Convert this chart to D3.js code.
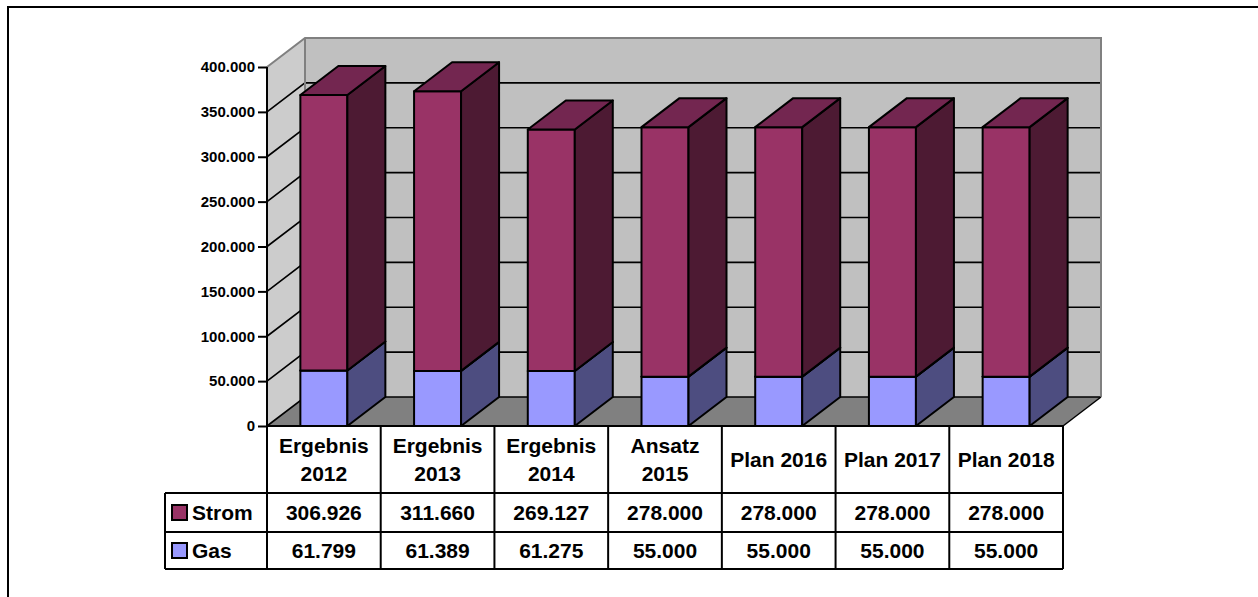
<!DOCTYPE html>
<html>
<head>
<meta charset="utf-8">
<script src="https://cdn.jsdelivr.net/npm/d3@7"></script>
<style>
  html, body { margin: 0; padding: 0; background: #fff; }
  svg { display: block; font-family: "Liberation Sans", Arial, Helvetica, sans-serif; font-weight: bold; }
</style>
</head>
<body>
<svg id="chart" width="1258" height="597"></svg>
<script>
// Categories (header cells break on "\n")
const categories = ["Ergebnis\n2012", "Ergebnis\n2013", "Ergebnis\n2014", "Ansatz\n2015", "Plan 2016", "Plan 2017", "Plan 2018"];
const stromValues = [306926, 311660, 269127, 278000, 278000, 278000, 278000];
const gasValues = [61799, 61389, 61275, 55000, 55000, 55000, 55000];
const seriesNames = ["Strom", "Gas"];
const yTicks = [0, 50000, 100000, 150000, 200000, 250000, 300000, 350000, 400000];

const de = d3.formatLocale({ decimal: ",", thousands: ".", grouping: [3], currency: ["", " €"] });
const fmt = de.format(",d");

const svg = d3.select("#chart");

// Layout
const plotLeft = 267, plotRight = 1063, plotBottom = 426, plotTop = 67;
const depthX = 38, depthY = -29;
const rowHeader = [426, 493], rowStrom = [493, 532], rowGas = [532, 569];
const legendLeft = 165;

const x = d3.scaleBand().domain(categories).range([plotLeft, plotRight]).padding(0);
const y = d3.scaleLinear().domain([0, 400000]).range([plotBottom, plotTop]);
const barW = 47;

const colors = {
  Strom: { front: "#993366", side: "#4d1a33", top: "#732650" },
  Gas: { front: "#9999ff", side: "#4d4d80", top: "#7373bf" }
};

// Outer frame
svg.append("rect").attr("x", 8).attr("y", 7).attr("width", 1300).attr("height", 650)
  .attr("fill", "none").attr("stroke", "#000").attr("stroke-width", 2);

const y0 = y(0), yMax = y(400000);

// Back wall
svg.append("rect")
  .attr("x", plotLeft + depthX).attr("y", yMax + depthY)
  .attr("width", plotRight - plotLeft).attr("height", y0 - yMax)
  .attr("fill", "#c0c0c0");

// Side wall
svg.append("polygon")
  .attr("points", [[plotLeft, yMax], [plotLeft + depthX, yMax + depthY], [plotLeft + depthX, y0 + depthY], [plotLeft, y0]].join(" "))
  .attr("fill", "#cccccc");

// Floor
svg.append("polygon")
  .attr("points", [[plotLeft, y0], [plotLeft + depthX, y0 + depthY], [plotRight + depthX, y0 + depthY], [plotRight, y0]].join(" "))
  .attr("fill", "#808080");

// Gridlines on the walls
const gridTicks = yTicks.filter(t => t < 400000);
const grid = svg.append("g").attr("stroke", "#000").attr("stroke-width", 1.6).attr("fill", "none");
gridTicks.forEach(t => {
  const yy = y(t);
  grid.append("path").attr("d", `M${plotLeft},${yy}L${plotLeft + depthX},${yy + depthY}H${plotRight + depthX}`);
});

// Wall edges
svg.append("path")
  .attr("d", `M${plotLeft},${yMax}L${plotLeft + depthX},${yMax + depthY}H${plotRight + depthX}V${y0 + depthY}` +
             `M${plotLeft + depthX},${yMax + depthY}V${y0 + depthY}`)
  .attr("fill", "none").attr("stroke", "#808080").attr("stroke-width", 2);

// Floor right edge
svg.append("path")
  .attr("d", `M${plotRight + depthX},${y0 + depthY}L${plotRight},${y0}`)
  .attr("fill", "none").attr("stroke", "#000").attr("stroke-width", 1.5);

// 3D bars
function box(g, x0, yTop, yBot, c) {
  const w = barW;
  g.append("polygon")
    .attr("points", [[x0, yBot], [x0 + w, yBot], [x0 + w, yTop], [x0, yTop]].join(" "))
    .attr("fill", c.front);
  g.append("polygon")
    .attr("points", [[x0 + w, yBot], [x0 + w + depthX, yBot + depthY], [x0 + w + depthX, yTop + depthY], [x0 + w, yTop]].join(" "))
    .attr("fill", c.side);
  g.append("polygon")
    .attr("points", [[x0, yTop], [x0 + w, yTop], [x0 + w + depthX, yTop + depthY], [x0 + depthX, yTop + depthY]].join(" "))
    .attr("fill", c.top);
}

const bars = svg.append("g").attr("stroke", "#000").attr("stroke-width", 2).attr("stroke-linejoin", "round");
categories.forEach((cat, i) => {
  const x0 = x(cat) + (x.bandwidth() - barW) / 2;
  const g = bars.append("g");
  box(g, x0, y(gasValues[i]), y(0), colors.Gas);
  box(g, x0, y(gasValues[i] + stromValues[i]), y(gasValues[i]), colors.Strom);
});

// Y axis
const axis = d3.axisLeft(y).tickValues(yTicks).tickFormat(fmt).tickSize(9).tickPadding(3);
const ax = svg.append("g").attr("transform", `translate(${plotLeft},0)`).call(axis);
ax.select(".domain").attr("stroke", "#000").attr("stroke-width", 2).attr("d", `M0,${yMax}V${y0}`);
ax.selectAll(".tick line").attr("stroke", "#000").attr("stroke-width", 2);
ax.selectAll(".tick text").attr("fill", "#000").attr("font-size", 15).attr("font-weight", "bold")
  .attr("font-family", "'Liberation Sans', Arial, sans-serif");

// Data table
const table = svg.append("g");
const lines = table.append("g").attr("stroke", "#000").attr("stroke-width", 2).attr("fill", "none");
lines.append("path").attr("d", `M${plotLeft},${rowHeader[0]}H${plotRight}`);
[rowStrom[0], rowGas[0], rowGas[1]].forEach(yy => {
  lines.append("path").attr("d", `M${legendLeft},${yy}H${plotRight}`);
});
lines.append("path").attr("d", `M${legendLeft},${rowStrom[0]}V${rowGas[1]}`);
categories.forEach(cat => {
  lines.append("path").attr("d", `M${x(cat)},${rowHeader[0]}V${rowGas[1]}`);
});
lines.append("path").attr("d", `M${plotRight},${rowHeader[0]}V${rowGas[1]}`);

const fontSize = 21, capH = 15;
const cellText = table.append("g").attr("font-size", fontSize).attr("text-anchor", "middle").attr("fill", "#000");

// Header cells
categories.forEach(cat => {
  const parts = cat.split("\n");
  const cx = x(cat) + x.bandwidth() / 2;
  const mid = (rowHeader[0] + rowHeader[1]) / 2;
  const lh = 28.5;
  parts.forEach((p, k) => {
    const base = mid + capH / 2 + (k - (parts.length - 1) / 2) * lh;
    cellText.append("text").attr("x", cx).attr("y", base).text(p);
  });
});

// Value rows
const rows = [
  { name: seriesNames[0], values: stromValues, band: rowStrom, color: colors.Strom.front },
  { name: seriesNames[1], values: gasValues, band: rowGas, color: colors.Gas.front }
];
rows.forEach(r => {
  const mid = (r.band[0] + r.band[1]) / 2;
  r.values.forEach((v, i) => {
    cellText.append("text")
      .attr("x", x(categories[i]) + x.bandwidth() / 2)
      .attr("y", mid + capH / 2 - 0.5)
      .text(fmt(v));
  });
  // Legend key
  table.append("rect")
    .attr("x", 172).attr("y", mid - 7.5).attr("width", 15).attr("height", 15)
    .attr("fill", r.color).attr("stroke", "#000").attr("stroke-width", 2);
  table.append("text")
    .attr("x", 192).attr("y", mid + capH / 2 - 0.5)
    .attr("font-size", fontSize).attr("fill", "#000")
    .text(r.name);
});
</script>
</body>
</html>
